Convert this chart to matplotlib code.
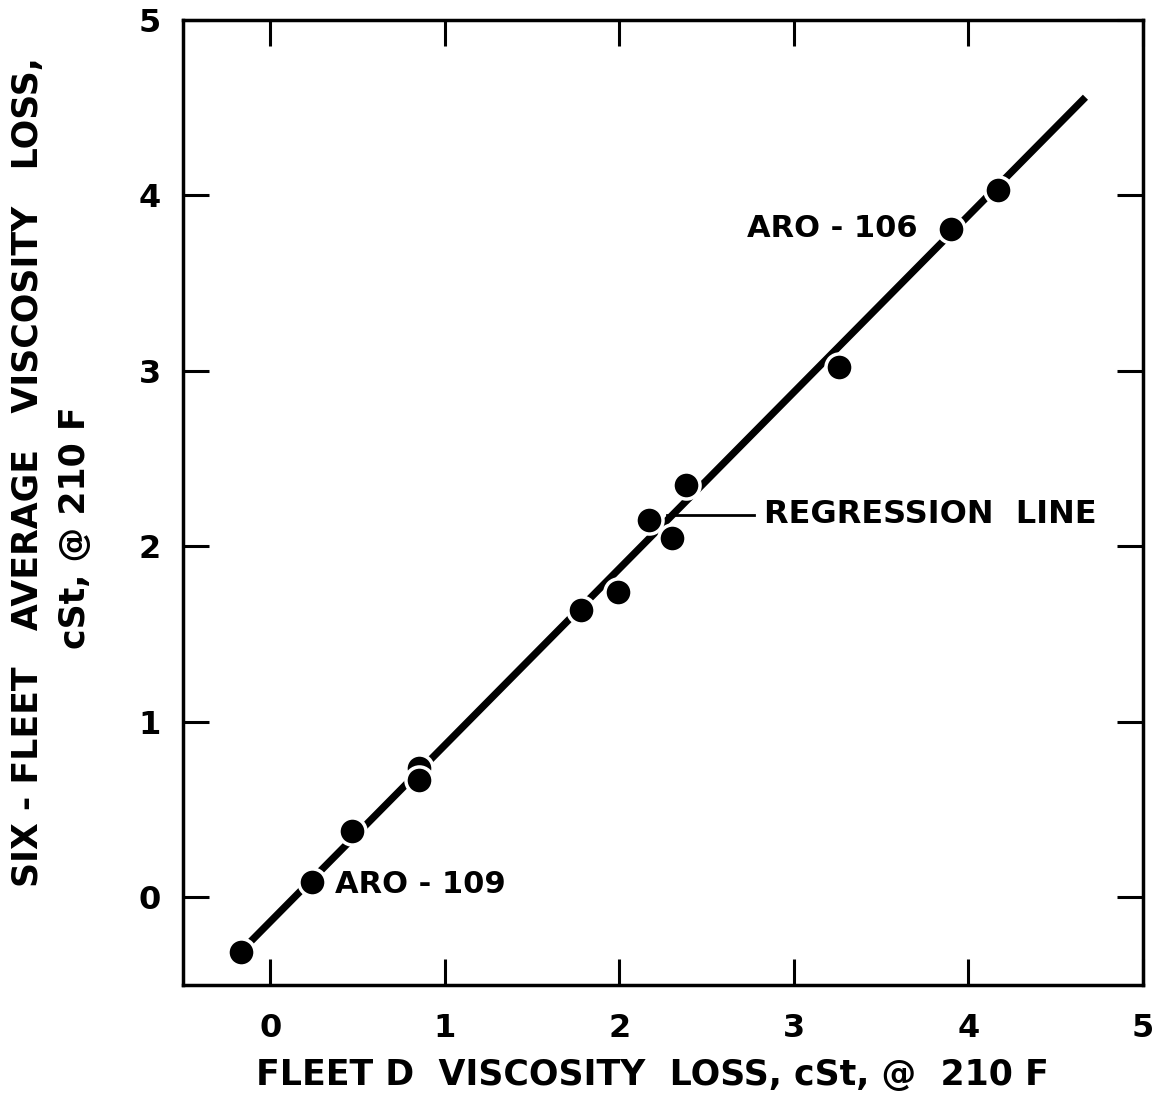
import matplotlib.pyplot as plt
import numpy as np

# Fleet D loss vs six-fleet average loss, cSt @ 210 F
fleet_d = [-0.17, 0.24, 0.47, 0.85, 0.85, 1.78, 1.99, 2.17, 2.30, 2.38, 3.26, 3.90, 4.17]
six_avg = [-0.31, 0.085, 0.38, 0.735, 0.67, 1.64, 1.74, 2.15, 2.05, 2.35, 3.02, 3.81, 4.03]

# regression line ends, as drawn
reg_x = [-0.2, 4.67]
reg_y = [-0.34, 4.56]

ticks = [0, 1, 2, 3, 4, 5]
tick_labels = ['0', '1', '2', '3', '4', '5']

plt.rcParams['font.family'] = ['DejaVu Sans']
plt.rcParams['font.weight'] = 'bold'

fig = plt.figure(figsize=(11.56, 11.0), dpi=100)
ax = fig.add_axes([0.1583, 0.1045, 0.8305, 0.8773])

ax.plot(reg_x, reg_y, color='black', lw=5.2, solid_capstyle='butt', zorder=2)
ax.plot(fleet_d, six_avg, 'o', color='black', ms=19.5, mec='white', mew=2.5, zorder=3)

ax.set_xlim(-0.5, 5)
ax.set_ylim(-0.5, 5)
ax.set_xticks(ticks)
ax.set_xticklabels(tick_labels)
ax.set_yticks(ticks)
ax.set_yticklabels(tick_labels)
ax.tick_params(direction='in', length=19, width=2.2, labelsize=23,
               top=True, right=True, pad=16)
ax.tick_params(axis='x', pad=20)
for s in ax.spines.values():
    s.set_linewidth(2.5)

ax.text(3.71, 3.81, 'ARO - 106', fontsize=22, ha='right', va='center')
ax.text(0.37, 0.074, 'ARO - 109', fontsize=22, ha='left', va='center')
ax.plot([2.27, 2.77], [2.18, 2.18], color='black', lw=2)
ax.text(2.83, 2.18, 'REGRESSION  LINE', fontsize=23, ha='left', va='center')

fig.text(0.564, 0.023, 'FLEET D  VISCOSITY  LOSS, cSt, @  210 F',
         fontsize=25, ha='center', va='center')
fig.text(0.024, 0.571, 'SIX - FLEET   AVERAGE   VISCOSITY   LOSS,',
         fontsize=25, ha='center', va='center', rotation=90)
fig.text(0.065, 0.52, 'cSt, @ 210 F',
         fontsize=25, ha='center', va='center', rotation=90)

fig.savefig('out.png', dpi=100)
